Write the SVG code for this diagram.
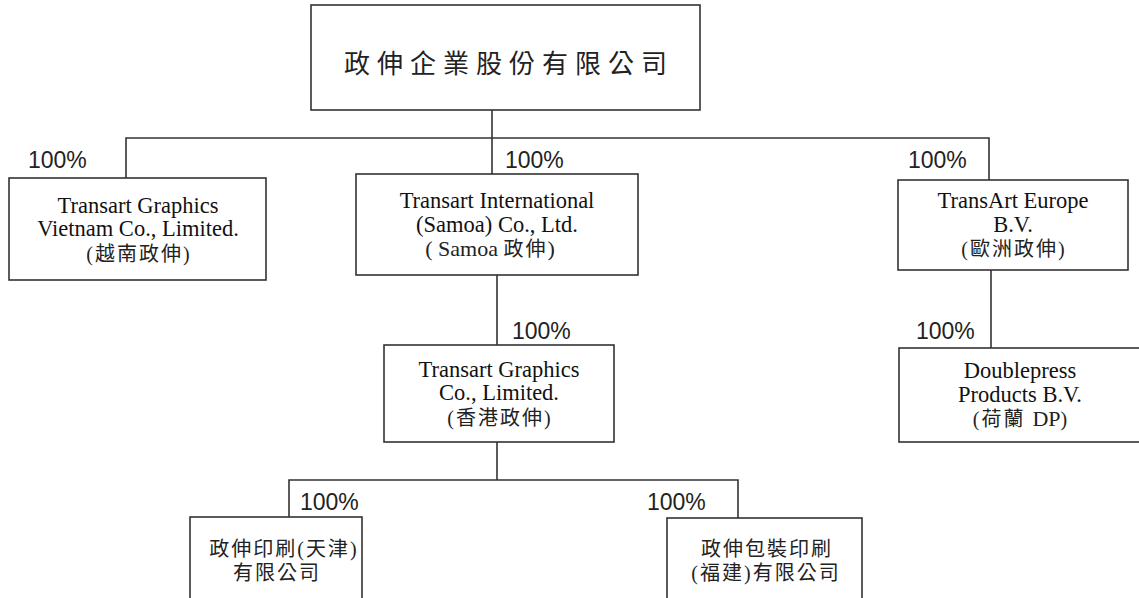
<svg xmlns="http://www.w3.org/2000/svg" width="1139" height="598" viewBox="0 0 1139 598">
<style>
.box{fill:#fff;stroke:#333;stroke-width:1.6}
.ln{fill:none;stroke:#333;stroke-width:1.6}
.t{font-family:"Liberation Serif","Noto Sans CJK TC",serif;font-size:22.5px;fill:#111;text-anchor:middle}
.c{font-family:"Liberation Serif","Noto Sans CJK TC",serif;font-size:20px;letter-spacing:2px;fill:#222;text-anchor:middle}
.p{font-family:"Liberation Sans","Open Sans",sans-serif;font-size:23px;fill:#222}
</style>
<rect width="1139" height="598" fill="#fff"/>
<g id="connectors">
<polyline class="ln" points="492,110 492,138"/>
<polyline class="ln" points="126,178 126,138 989,138 989,180"/>
<polyline class="ln" points="492,138 492,174"/>
<polyline class="ln" points="497,275 497,345"/>
<polyline class="ln" points="991,270 991,348"/>
<polyline class="ln" points="497,442 497,480"/>
<polyline class="ln" points="289,517 289,480 738,480 738,518"/>
<text class="p" x="28" y="168">100%</text>
<text class="p" x="505" y="168">100%</text>
<text class="p" x="908" y="168">100%</text>
<text class="p" x="512" y="339">100%</text>
<text class="p" x="916" y="339">100%</text>
<text class="p" x="300" y="510">100%</text>
<text class="p" x="647" y="510">100%</text>
</g>
<g id="parent">
<rect class="box" x="311" y="5" width="389" height="105"/>
<text class="c" x="509" y="73" style="font-size:26px;letter-spacing:7px">政伸企業股份有限公司</text>
</g>
<g id="vietnam">
<rect class="box" x="9" y="178" width="257" height="102"/>
<text class="t" x="138" y="213">Transart Graphics</text>
<text class="t" x="138" y="236">Vietnam Co., Limited.</text>
<text class="c" x="139" y="261">(越南政伸)</text>
</g>
<g id="samoa">
<rect class="box" x="356" y="174" width="282" height="101"/>
<text class="t" x="497" y="208">Transart International</text>
<text class="t" x="497" y="232">(Samoa) Co., Ltd.</text>
<text class="c" x="490" y="256" style="font-size:22px;letter-spacing:0">( Samoa <tspan style="font-size:20px;letter-spacing:2px">政伸</tspan>)</text>
</g>
<g id="europe">
<rect class="box" x="898" y="180" width="230" height="90"/>
<text class="t" x="1013" y="208">TransArt Europe</text>
<text class="t" x="1013" y="232">B.V.</text>
<text class="c" x="1014" y="256">(歐洲政伸)</text>
</g>
<g id="hongkong">
<rect class="box" x="384" y="345" width="230" height="97"/>
<text class="t" x="499" y="377">Transart Graphics</text>
<text class="t" x="499" y="400">Co., Limited.</text>
<text class="c" x="500" y="425">(香港政伸)</text>
</g>
<g id="doublepress">
<rect class="box" x="899" y="348" width="242" height="94"/>
<text class="t" x="1020" y="378">Doublepress</text>
<text class="t" x="1020" y="402">Products B.V.</text>
<text class="c" x="1021" y="426">(荷蘭 <tspan style="font-size:22px;letter-spacing:0">DP</tspan>)</text>
</g>
<g id="tianjin">
<rect class="box" x="190" y="517" width="172" height="90"/>
<text class="c" x="284" y="556">政伸印刷(天津)</text>
<text class="c" x="277" y="580">有限公司</text>
</g>
<g id="fujian">
<rect class="box" x="667" y="518" width="195" height="90"/>
<text class="c" x="767" y="556">政伸包裝印刷</text>
<text class="c" x="766" y="580">(福建)有限公司</text>
</g>
</svg>
